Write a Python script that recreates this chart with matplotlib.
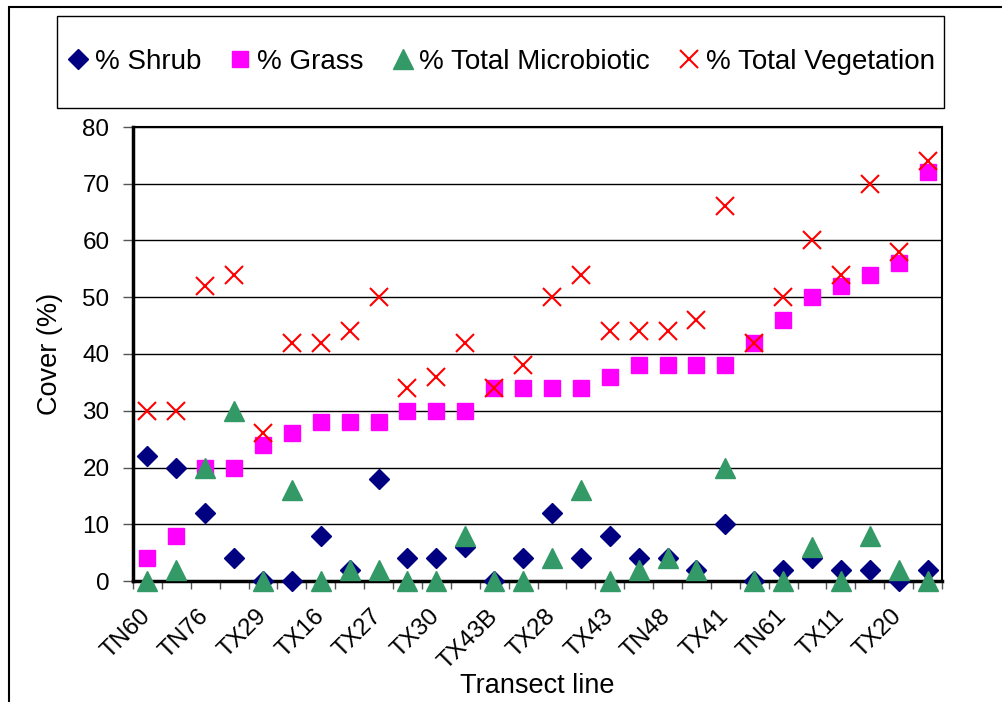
import matplotlib
matplotlib.use('Agg')
import matplotlib.pyplot as plt
from matplotlib.patches import Rectangle
import numpy as np

plt.rcParams['font.family'] = ['Liberation Sans', 'DejaVu Sans']

# shown tick labels (every second transect line)
labels = ['TN60', 'TN76', 'TX29', 'TX16', 'TX27', 'TX30', 'TX43B',
          'TX28', 'TX43', 'TN48', 'TX41', 'TN61', 'TX11', 'TX20']

shrub = [22, 20, 12, 4, 0, 0, 8, 2, 18, 4, 4, 6, 0, 4,
         12, 4, 8, 4, 4, 2, 10, 0, 2, 4, 2, 2, 0, 2]
grass = [4, 8, 20, 20, 24, 26, 28, 28, 28, 30, 30, 30, 34, 34,
         34, 34, 36, 38, 38, 38, 38, 42, 46, 50, 52, 54, 56, 72]
micro = [0, 2, 20, 30, 0, 16, 0, 2, 2, 0, 0, 8, 0, 0,
         4, 16, 0, 2, 4, 2, 20, 0, 0, 6, 0, 8, 2, 0]
total = [30, 30, 52, 54, 26, 42, 42, 44, 50, 34, 36, 42, 34, 38,
         50, 54, 44, 44, 44, 46, 66, 42, 50, 60, 54, 70, 58, 74]

n = len(grass)
x = np.arange(n)

fig = plt.figure(figsize=(10.03, 7.02), dpi=100)
ax = fig.add_axes([133/1003, 1-581/702, (942-133)/1003, (581-127)/702])

ax.plot(x, shrub, 'D', color='#000080', ms=10, ls='none', label='% Shrub', clip_on=False, zorder=3)
ax.plot(x, grass, 's', color='#FF00FF', ms=12, ls='none', label='% Grass', clip_on=False, zorder=4)
ax.plot(x, micro, '^', color='#339966', ms=14, ls='none', label='% Total Microbiotic', clip_on=False, zorder=5)
ax.plot(x, total, 'x', color='#FF0000', ms=13, mew=1.5, ls='none', label='% Total Vegetation', clip_on=False, zorder=6)

ax.set_xlim(-0.5, n-0.5)
ax.set_ylim(0, 80)
ax.set_yticks(np.arange(0, 81, 10))
ax.grid(axis='y', color='black', lw=1)
ax.set_axisbelow(True)
ax.tick_params(axis='y', labelsize=17.5, length=7, width=1, direction='out', color='#555555', pad=10)

ax.set_xticks(x[::2])
ax.set_xticklabels(labels, rotation=45, ha='right', va='center', rotation_mode='anchor', fontsize=17.5)
ax.set_xticks(np.arange(-0.5, n, 1), minor=True)
ax.tick_params(axis='x', which='major', length=0, pad=23)
ax.tick_params(axis='x', which='minor', length=6, width=1, direction='out', color='#555555')

for s in ax.spines.values():
    s.set_linewidth(1.5)
ax.spines['left'].set_linewidth(2.5)
ax.spines['bottom'].set_linewidth(2.5)

ax.set_ylabel('Cover (%)', fontsize=19.5, labelpad=14)
ax.set_xlabel('Transect line', fontsize=19.5, labelpad=0)

# legend box drawn separately so it keeps the reference height
fig.patches.append(Rectangle((57/1003, 1-108/702), (944-57)/1003, 92/702, transform=fig.transFigure,
                             fill=True, facecolor='white', lw=1.0, edgecolor='black', zorder=1))
leg = fig.legend(loc='center', bbox_to_anchor=(64/1003, 1-108/702, (935-64)/1003, 92/702),
                 mode='expand', ncol=4, fontsize=20, handletextpad=0.1, handlelength=1.0,
                 borderaxespad=0, borderpad=0, frameon=False)

# outer chart border
fig.patches.append(Rectangle((9/1003, -0.1), 1.2, 1.1 - 7/702, transform=fig.transFigure,
                             fill=False, lw=1.5, edgecolor='black'))

fig.savefig('out.png', dpi=100)
